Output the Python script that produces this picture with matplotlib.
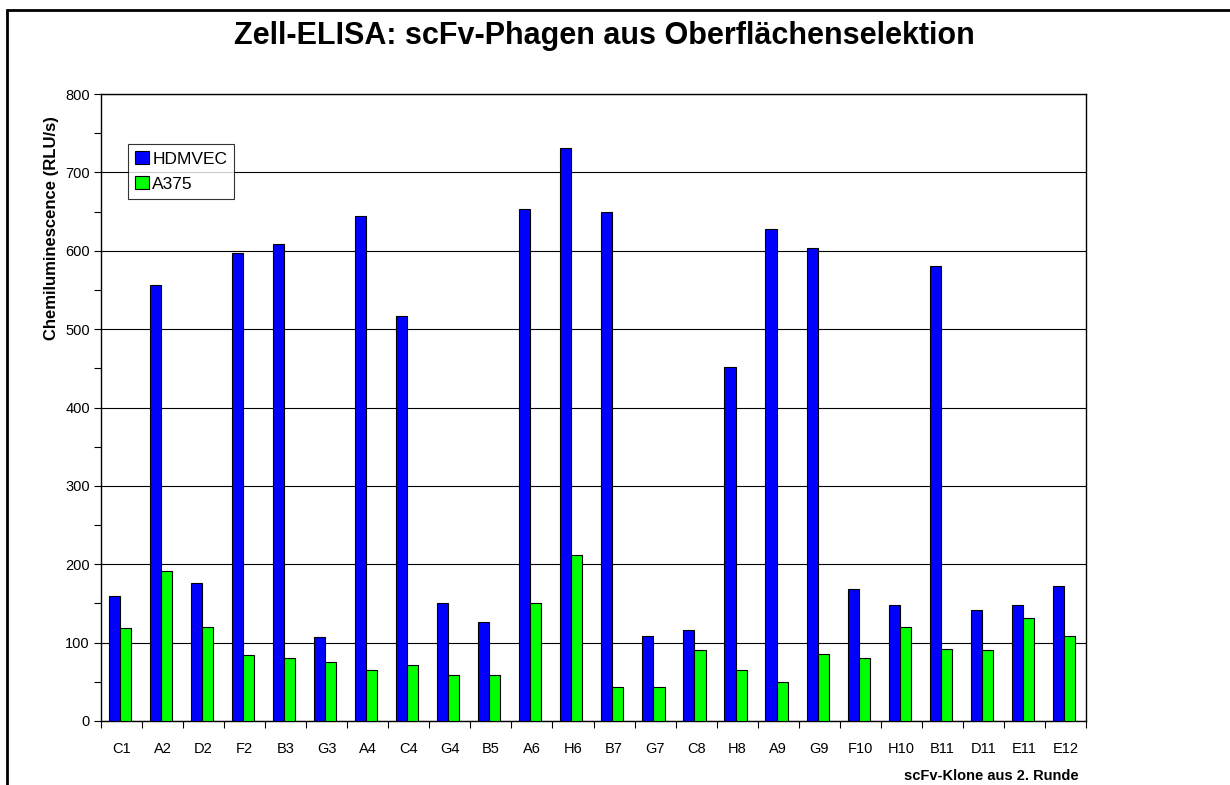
import matplotlib
matplotlib.use('Agg')
from matplotlib import pyplot as plt
from matplotlib.patches import Rectangle
import numpy as np

plt.rcParams['font.family'] = ['Liberation Sans', 'DejaVu Sans']

# Klone und Messwerte (Chemilumineszenz, RLU/s)
clones = ['C1', 'A2', 'D2', 'F2', 'B3', 'G3', 'A4', 'C4', 'G4', 'B5', 'A6', 'H6',
          'B7', 'G7', 'C8', 'H8', 'A9', 'G9', 'F10', 'H10', 'B11', 'D11', 'E11', 'E12']
hdmvec = [159, 556, 176, 597, 608, 107, 644, 517, 151, 126, 653, 731,
          649, 109, 116, 452, 628, 603, 168, 148, 581, 142, 148, 172]
a375 = [119, 191, 120, 84, 80, 75, 65, 72, 59, 59, 151, 212,
        43, 43, 91, 65, 50, 86, 80, 120, 92, 91, 131, 109]
yticks = [0, 100, 200, 300, 400, 500, 600, 700, 800]

W, H = 1230, 785
fig = plt.figure(figsize=(W / 100, H / 100), dpi=100)
ax = fig.add_axes([101 / W, 1 - 721 / H, 985 / W, 627 / H])

x = np.arange(len(clones))
bw = 0.27
ax.bar(x - bw / 2 - 0.04, hdmvec, bw, color='#0000FF', edgecolor='black',
       linewidth=0.8, label='HDMVEC', zorder=3)
ax.bar(x + bw / 2 - 0.04, a375, bw, color='#00FF00', edgecolor='black',
       linewidth=0.8, label='A375', zorder=3)

ax.set_xlim(-0.5, len(clones) - 0.5)
ax.set_ylim(0, 800)
ax.set_yticks(yticks)
ax.set_yticks(np.arange(50, 800, 100), minor=True)
ax.yaxis.grid(True, which='major', color='black', linewidth=0.8, zorder=0)
ax.tick_params(axis='y', which='both', direction='out', length=5, width=0.8,
               labelsize=10.5, pad=3)

ax.set_xticks(x)
ax.set_xticklabels(clones, fontsize=10.5)
ax.set_xticks(np.arange(-0.5, len(clones), 1), minor=True)
ax.tick_params(axis='x', which='major', length=0, pad=15)
ax.tick_params(axis='x', which='minor', direction='out', length=5, width=0.8)

for s in ax.spines.values():
    s.set_color('black')
    s.set_linewidth(1.0)

leg = ax.legend(loc='upper left', bbox_to_anchor=(27 / 985, 1 - 50 / 627),
                fontsize=12.5, frameon=True, fancybox=False, borderpad=0.4,
                handlelength=0.8, handleheight=0.8, handletextpad=0.2,
                labelspacing=0.55, borderaxespad=0)
leg.get_frame().set_edgecolor('black')
leg.get_frame().set_linewidth(0.8)

fig.text(604 / W, 1 - 36 / H,
         'Zell-ELISA: scFv-Phagen aus Oberflächenselektion',
         ha='center', va='center', fontsize=22, fontweight='bold')
fig.text(52 / W, 1 - 228 / H, 'Chemiluminescence (RLU/s)', rotation=90,
         ha='center', va='center', fontsize=12, fontweight='bold')
fig.text(1079 / W, 1 - 776 / H, 'scFv-Klone aus 2. Runde',
         ha='right', va='center', fontsize=10.5, fontweight='bold')

# Rahmen um das Diagramm (rechts und unten abgeschnitten)
fig.patches.append(Rectangle((7 / W, -0.05), 1.2, 1.05 - 10 / H,
                             transform=fig.transFigure, fill=False,
                             edgecolor='black', linewidth=2))

fig.savefig('out.png', dpi=100)
